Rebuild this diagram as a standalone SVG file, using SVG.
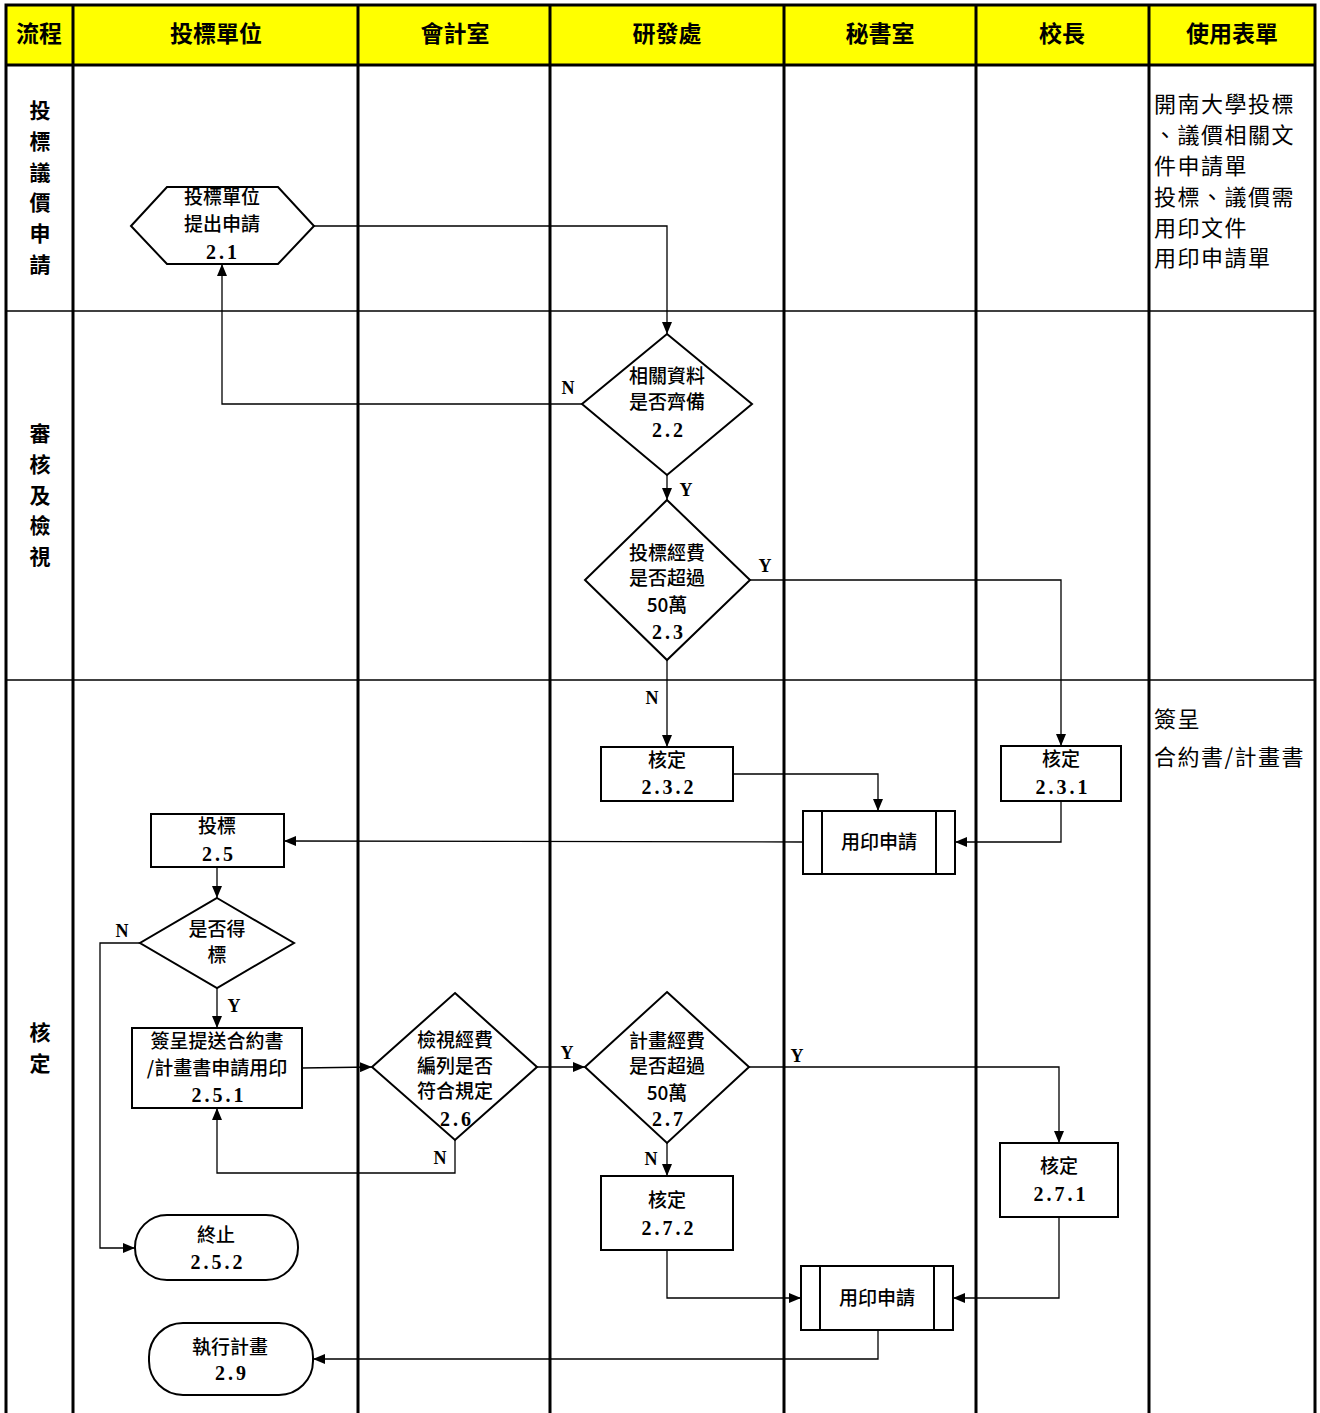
<svg xmlns="http://www.w3.org/2000/svg" width="1320" height="1413" viewBox="0 0 1320 1413">
<style>
.hdr{font-family:"Noto Sans CJK TC","Noto Sans CJK SC",sans-serif;font-size:23px;font-weight:bold;text-anchor:middle;fill:#000}
.lane{font-family:"Noto Sans CJK TC","Noto Sans CJK SC",sans-serif;font-size:21px;font-weight:bold;text-anchor:middle;fill:#000}
.form{font-family:"Noto Sans CJK TC","Noto Sans CJK SC",sans-serif;font-size:22px;letter-spacing:1.5px;fill:#000}
.t{font-family:"Noto Sans CJK TC","Noto Sans CJK SC",sans-serif;font-size:19px;font-weight:500;text-anchor:middle;fill:#000}
.n{font-family:"Liberation Serif",serif;font-size:20px;font-weight:bold;text-anchor:middle;letter-spacing:3px;fill:#000}
.lb{font-family:"Liberation Serif",serif;font-size:18px;font-weight:bold;text-anchor:middle;fill:#000}
.shape{fill:#fff;stroke:#000;stroke-width:2}
.c{fill:none;stroke:#000;stroke-width:1.3}
.thick{stroke:#000;stroke-width:3;fill:none}
.thin{stroke:#000;stroke-width:1.5;fill:none}
</style>
<defs>
<marker id="ah" viewBox="0 0 12 10" refX="12" refY="5" markerWidth="12" markerHeight="10" markerUnits="userSpaceOnUse" orient="auto">
<path d="M0,0 L12,5 L0,10 Z" fill="#000"/>
</marker>
</defs>
<rect width="1320" height="1413" fill="#fff"/>
<g id="lanes">
<rect x="6" y="5" width="1309" height="60" fill="#ffff00"/>
<line class="thin" x1="6" y1="311" x2="1315" y2="311"/>
<line class="thin" x1="6" y1="680" x2="1315" y2="680"/>
<line class="thick" x1="6" y1="65" x2="1315" y2="65"/>
<line class="thick" x1="73" y1="5" x2="73" y2="1413"/>
<line class="thick" x1="358" y1="5" x2="358" y2="1413"/>
<line class="thick" x1="550" y1="5" x2="550" y2="1413"/>
<line class="thick" x1="784" y1="5" x2="784" y2="1413"/>
<line class="thick" x1="976" y1="5" x2="976" y2="1413"/>
<line class="thick" x1="1149" y1="5" x2="1149" y2="1413"/>
<path class="thick" d="M6,1413 V5 H1315 V1413" stroke-width="3.5"/>
<text class="hdr" x="39" y="42">流程</text>
<text class="hdr" x="216" y="42">投標單位</text>
<text class="hdr" x="455" y="42">會計室</text>
<text class="hdr" x="667" y="42">研發處</text>
<text class="hdr" x="880" y="42">秘書室</text>
<text class="hdr" x="1062" y="42">校長</text>
<text class="hdr" x="1232" y="42">使用表單</text>
<text class="lane" x="40" y="118">投</text>
<text class="lane" x="40" y="149">標</text>
<text class="lane" x="40" y="180">議</text>
<text class="lane" x="40" y="210">價</text>
<text class="lane" x="40" y="241">申</text>
<text class="lane" x="40" y="272">請</text>
<text class="lane" x="40" y="441">審</text>
<text class="lane" x="40" y="472">核</text>
<text class="lane" x="40" y="503">及</text>
<text class="lane" x="40" y="533">檢</text>
<text class="lane" x="40" y="564">視</text>
<text class="lane" x="40" y="1040">核</text>
<text class="lane" x="40" y="1071">定</text>
<text class="form" x="1154" y="112">開南大學投標</text>
<text class="form" x="1154" y="143">、議價相關文</text>
<text class="form" x="1154" y="174">件申請單</text>
<text class="form" x="1154" y="205">投標、議價需</text>
<text class="form" x="1154" y="236">用印文件</text>
<text class="form" x="1154" y="266">用印申請單</text>
<text class="form" x="1154" y="727">簽呈</text>
<text class="form" x="1154" y="765">合約書/計畫書</text>
</g>
<g id="connectors">
<path class="c" d="M314,226 H667 V334" marker-end="url(#ah)"/>
<path class="c" d="M582,404 H222 V264" marker-end="url(#ah)"/>
<path class="c" d="M667,475 V500" marker-end="url(#ah)"/>
<path class="c" d="M750,580 H1061 V746" marker-end="url(#ah)"/>
<path class="c" d="M667,660 V747" marker-end="url(#ah)"/>
<path class="c" d="M733,774 H878 V811" marker-end="url(#ah)"/>
<path class="c" d="M1061,801 V842 H955" marker-end="url(#ah)"/>
<path class="c" d="M803,842 L284,841" marker-end="url(#ah)"/>
<path class="c" d="M217,867 V898" marker-end="url(#ah)"/>
<path class="c" d="M140,943 H100 V1248 H135" marker-end="url(#ah)"/>
<path class="c" d="M217,988 V1028" marker-end="url(#ah)"/>
<path class="c" d="M302,1068 L372,1067" marker-end="url(#ah)"/>
<path class="c" d="M455,1140 V1173 H217 V1108" marker-end="url(#ah)"/>
<path class="c" d="M537,1067 H585" marker-end="url(#ah)"/>
<path class="c" d="M749,1067 H1059 V1143" marker-end="url(#ah)"/>
<path class="c" d="M667,1143 V1176" marker-end="url(#ah)"/>
<path class="c" d="M667,1250 V1298 H801" marker-end="url(#ah)"/>
<path class="c" d="M1059,1217 V1298 H953" marker-end="url(#ah)"/>
<path class="c" d="M878,1330 V1359 H313" marker-end="url(#ah)"/>
<text class="lb" x="568" y="394">N</text>
<text class="lb" x="686" y="496">Y</text>
<text class="lb" x="765" y="572">Y</text>
<text class="lb" x="652" y="704">N</text>
<text class="lb" x="122" y="937">N</text>
<text class="lb" x="234" y="1012">Y</text>
<text class="lb" x="440" y="1164">N</text>
<text class="lb" x="567" y="1059">Y</text>
<text class="lb" x="797" y="1062">Y</text>
<text class="lb" x="651" y="1165">N</text>
</g>
<g id="n2-1">
<polygon class="shape" points="131,226 167,187 278,187 314,226 278,264 167,264"/>
<text class="t" x="222" y="204">投標單位</text>
<text class="t" x="222" y="231">提出申請</text>
<text class="n" x="223" y="259">2.1</text>
</g>
<g id="n2-2">
<polygon class="shape" points="667,334 752,404 667,475 582,404"/>
<text class="t" x="667" y="383">相關資料</text>
<text class="t" x="667" y="409">是否齊備</text>
<text class="n" x="669" y="437">2.2</text>
</g>
<g id="n2-3">
<polygon class="shape" points="667,500 750,580 667,660 585,580"/>
<text class="t" x="667" y="560">投標經費</text>
<text class="t" x="667" y="585">是否超過</text>
<text class="t" x="667" y="612">50萬</text>
<text class="n" x="669" y="639">2.3</text>
</g>
<g id="n2-3-2">
<rect class="shape" x="601" y="747" width="132" height="54"/>
<text class="t" x="667" y="767">核定</text>
<text class="n" x="669" y="794">2.3.2</text>
</g>
<g id="n2-3-1">
<rect class="shape" x="1001" y="746" width="120" height="55"/>
<text class="t" x="1061" y="766">核定</text>
<text class="n" x="1063" y="794">2.3.1</text>
</g>
<g id="seal1">
<rect class="shape" x="803" y="811" width="152" height="63"/>
<line class="shape" x1="822" y1="811" x2="822" y2="874"/>
<line class="shape" x1="936" y1="811" x2="936" y2="874"/>
<text class="t" x="879" y="849">用印申請</text>
</g>
<g id="n2-5">
<rect class="shape" x="151" y="814" width="133" height="53"/>
<text class="t" x="217" y="833">投標</text>
<text class="n" x="219" y="861">2.5</text>
</g>
<g id="win">
<polygon class="shape" points="217,898 294,943 217,988 140,943"/>
<text class="t" x="217" y="936">是否得</text>
<text class="t" x="217" y="962">標</text>
</g>
<g id="n2-5-1">
<rect class="shape" x="132" y="1028" width="170" height="80"/>
<text class="t" x="217" y="1048">簽呈提送合約書</text>
<text class="t" x="217" y="1075">/計畫書申請用印</text>
<text class="n" x="219" y="1102">2.5.1</text>
</g>
<g id="n2-6">
<polygon class="shape" points="455,993 537,1067 455,1140 372,1067"/>
<text class="t" x="455" y="1047">檢視經費</text>
<text class="t" x="455" y="1073">編列是否</text>
<text class="t" x="455" y="1098">符合規定</text>
<text class="n" x="457" y="1126">2.6</text>
</g>
<g id="n2-7">
<polygon class="shape" points="667,992 749,1067 667,1143 585,1067"/>
<text class="t" x="667" y="1048">計畫經費</text>
<text class="t" x="667" y="1073">是否超過</text>
<text class="t" x="667" y="1100">50萬</text>
<text class="n" x="669" y="1126">2.7</text>
</g>
<g id="n2-7-2">
<rect class="shape" x="601" y="1176" width="132" height="74"/>
<text class="t" x="667" y="1207">核定</text>
<text class="n" x="669" y="1235">2.7.2</text>
</g>
<g id="n2-7-1">
<rect class="shape" x="1000" y="1143" width="118" height="74"/>
<text class="t" x="1059" y="1173">核定</text>
<text class="n" x="1061" y="1201">2.7.1</text>
</g>
<g id="seal2">
<rect class="shape" x="801" y="1266" width="152" height="64"/>
<line class="shape" x1="820" y1="1266" x2="820" y2="1330"/>
<line class="shape" x1="934" y1="1266" x2="934" y2="1330"/>
<text class="t" x="877" y="1305">用印申請</text>
</g>
<g id="n2-5-2">
<rect class="shape" x="135" y="1215" width="163" height="65" rx="32" ry="32"/>
<text class="t" x="216" y="1242">終止</text>
<text class="n" x="218" y="1269">2.5.2</text>
</g>
<g id="n2-9">
<rect class="shape" x="149" y="1323" width="164" height="72" rx="34" ry="34"/>
<text class="t" x="230" y="1354">執行計畫</text>
<text class="n" x="232" y="1380">2.9</text>
</g>
</svg>
